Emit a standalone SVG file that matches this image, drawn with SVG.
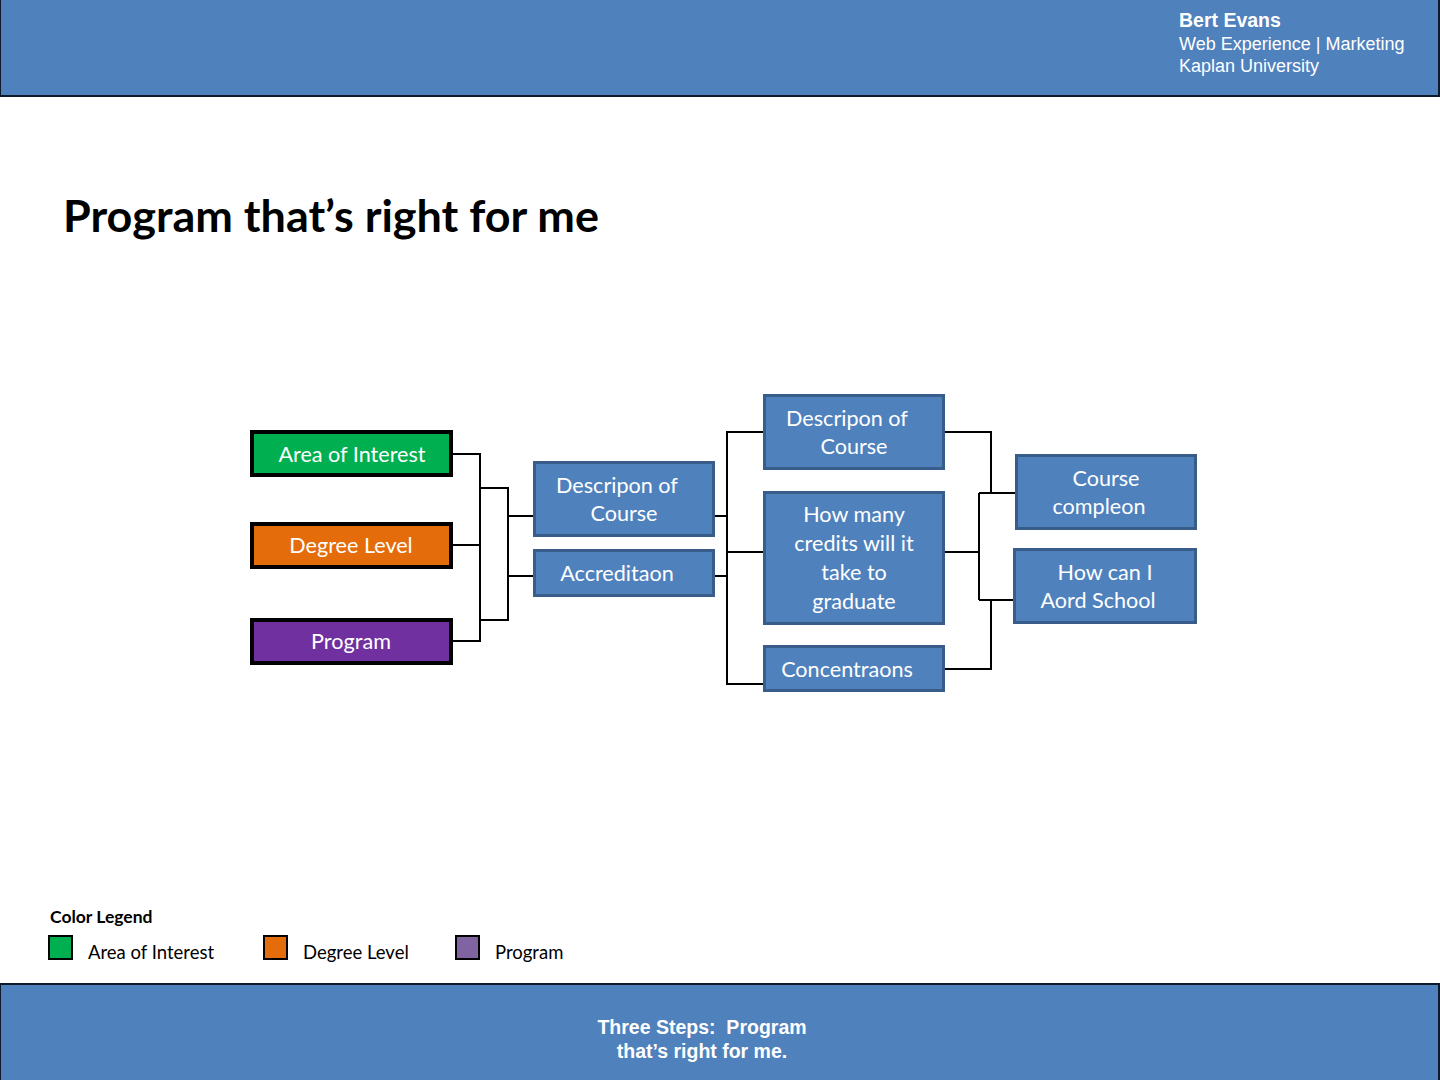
<svg xmlns="http://www.w3.org/2000/svg" width="1440" height="1080" viewBox="0 0 1440 1080">
<style>
.band{fill:#4F81BD;stroke:#0E1A2B;stroke-width:2}
.hdr{font-family:"Liberation Sans",Arial,sans-serif;font-size:18px;fill:#fff}
.hdr.name{font-size:19.5px;font-weight:bold}
.ftr{font-family:"Liberation Sans",Arial,sans-serif;font-size:19.5px;font-weight:bold;fill:#fff;text-anchor:middle;white-space:pre}
.cat{stroke:#000;stroke-width:4}
.blue{fill:#4F81BD;stroke:#385D8A;stroke-width:3}
.lbl{font-family:Lato,"Open Sans",sans-serif;font-size:21.6px;fill:#fff;text-anchor:middle}
.conn{fill:none;stroke:#000;stroke-width:2}
.leg{font-family:Lato,"Open Sans",sans-serif;font-size:18.5px;fill:#000}
.sw{stroke:#000;stroke-width:2}
</style>
<rect width="1440" height="1080" fill="#fff"/>
<g id="header">
<rect class="band" x="0" y="-2" width="1439" height="98"/>
<text class="hdr name" x="1179" y="27">Bert Evans</text>
<text class="hdr" x="1179" y="50">Web Experience | Marketing</text>
<text class="hdr" x="1179" y="72">Kaplan University</text>
</g>
<g id="title">
<text x="63" y="232" font-family="Lato,'Open Sans',sans-serif" font-weight="bold" font-size="44" fill="#000" textLength="536" lengthAdjust="spacingAndGlyphs">Program that’s right for me</text>
</g>
<g id="connectors">
<path class="conn" d="M452 454H480V641H452M452 545H480"/>
<path class="conn" d="M480 488H508V620H480M508 516H534M508 576H534"/>
<path class="conn" d="M715 516H727M715 576H727M763 432H727V684H763M727 552H763"/>
<path class="conn" d="M945 432H991V493M945 669H991V600M979 493V600M979 493H1015M979 600H1013M945 552H979"/>
</g>
<g id="area-of-interest">
<rect class="cat" x="252" y="432" width="199" height="43" fill="#00B050"/>
<text class="lbl" x="352" y="462">Area of Interest</text>
</g>
<g id="degree-level">
<rect class="cat" x="252" y="524" width="199" height="43" fill="#E46C0A"/>
<text class="lbl" x="351" y="553">Degree Level</text>
</g>
<g id="program">
<rect class="cat" x="252" y="620" width="199" height="43" fill="#7030A0"/>
<text class="lbl" x="351" y="649">Program</text>
</g>
<g id="description-1">
<rect class="blue" x="534.5" y="462.5" width="179" height="73"/>
<text class="lbl" x="617" y="493">Descripon of</text>
<text class="lbl" x="624" y="521">Course</text>
</g>
<g id="accreditation">
<rect class="blue" x="534.5" y="550.5" width="179" height="45"/>
<text class="lbl" x="617" y="581">Accreditaon</text>
</g>
<g id="description-2">
<rect class="blue" x="764.5" y="395.5" width="179" height="73"/>
<text class="lbl" x="847" y="426">Descripon of</text>
<text class="lbl" x="854" y="454">Course</text>
</g>
<g id="credits">
<rect class="blue" x="764.5" y="492.5" width="179" height="131"/>
<text class="lbl" x="854" y="522">How many</text>
<text class="lbl" x="854" y="551">credits will it</text>
<text class="lbl" x="854" y="580">take to</text>
<text class="lbl" x="854" y="609">graduate</text>
</g>
<g id="concentrations">
<rect class="blue" x="764.5" y="646.5" width="179" height="44"/>
<text class="lbl" x="847" y="677">Concentraons</text>
</g>
<g id="course-completion">
<rect class="blue" x="1016.5" y="455.5" width="179" height="73"/>
<text class="lbl" x="1106" y="486">Course</text>
<text class="lbl" x="1099" y="514">compleon</text>
</g>
<g id="afford-school">
<rect class="blue" x="1014.5" y="549.5" width="181" height="73"/>
<text class="lbl" x="1105" y="580">How can I</text>
<text class="lbl" x="1098" y="608">Aord School</text>
</g>
<g id="legend">
<text x="50" y="923" font-family="Lato,'Open Sans',sans-serif" font-weight="bold" font-size="17.5" fill="#000">Color Legend</text>
<rect class="sw" x="49" y="936" width="23" height="23" fill="#00B050"/>
<text class="leg" x="88" y="959">Area of Interest</text>
<rect class="sw" x="264" y="936" width="23" height="23" fill="#E46C0A"/>
<text class="leg" x="303" y="959">Degree Level</text>
<rect class="sw" x="456" y="936" width="23" height="23" fill="#8064A2"/>
<text class="leg" x="495" y="959">Program</text>
</g>
<g id="footer">
<rect class="band" x="0" y="984" width="1439" height="98"/>
<text class="ftr" x="702" y="1034" xml:space="preserve">Three Steps:  Program</text>
<text class="ftr" x="702" y="1058">that’s right for me.</text>
</g>
</svg>
